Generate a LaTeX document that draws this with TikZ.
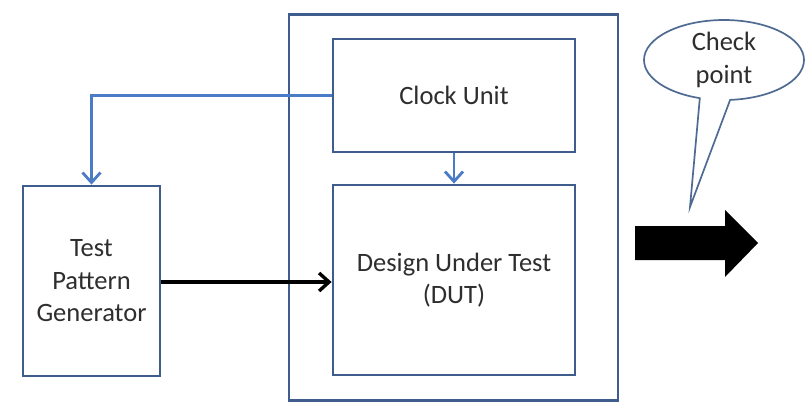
\documentclass[tikz,border=0pt]{standalone}
\usepackage{fontspec}
\setmainfont{Carlito}
\usetikzlibrary{arrows.meta,shapes.callouts}
\definecolor{boxline}{HTML}{3E5C8C}
\definecolor{wireblue}{HTML}{4A7BC6}
\definecolor{txt}{HTML}{2E2E2E}
\definecolor{bubble}{HTML}{4F6B92}
\tikzset{
  block/.style={draw=boxline, line width=2.8pt, fill=white, align=center,
    text=txt, font=\fontsize{26.5}{32.5}\selectfont, inner sep=0pt},
  clockwire/.style={draw=wireblue, line width=2.8pt,
    -{Straight Barb[length=10pt,width=18pt,line width=2.8pt]}},
  datawire/.style={draw=black, line width=3.4pt,
    -{Straight Barb[length=10pt,width=18pt,line width=3.4pt]}},
}
\begin{document}
\begin{tikzpicture}[x=1pt,y=-1pt]
\useasboundingbox[fill=white] (0,0) rectangle (807,405);

% system enclosure
\node[block, minimum width=329pt, minimum height=386pt] (sys) at (453.5,207.5) {};

% blocks
\node[block, minimum width=242pt, minimum height=113pt] (clk) at (454,95.5) {Clock Unit};
\node[block, minimum width=242pt, minimum height=190pt] (dut) at (454,280) {Design Under Test\\(DUT)};
\node[block, minimum width=137pt, minimum height=190pt] (tpg) at (91.5,281) {Test\\Pattern\\Generator};

% clock distribution
\draw[clockwire] (clk.west) -| (tpg.north);
\draw[clockwire] (clk.south) -- (dut.north);

% stimulus path
\draw[datawire] (tpg.east |- 0,282) -- (dut.west |- 0,282);

% output arrow, drawn as a filled outline
\coordinate (out) at (635,243);
\fill[black] (out) ++(0,-17) -- ++(90,0) -- ++(0,-16) -- ++(33,33)
  -- ++(-33,34) -- ++(0,-17) -- ++(-90,0) -- cycle;

% check point callout
\node[ellipse callout, draw=bubble, line width=1.7pt, fill=white,
  minimum width=160pt, minimum height=80pt, inner sep=0pt, align=center,
  text=txt, font=\fontsize{26.5}{33}\selectfont,
  callout absolute pointer={(690,207)}, callout pointer arc=22] (chk) at (724,60) {Check\\point};
\end{tikzpicture}
\end{document}
